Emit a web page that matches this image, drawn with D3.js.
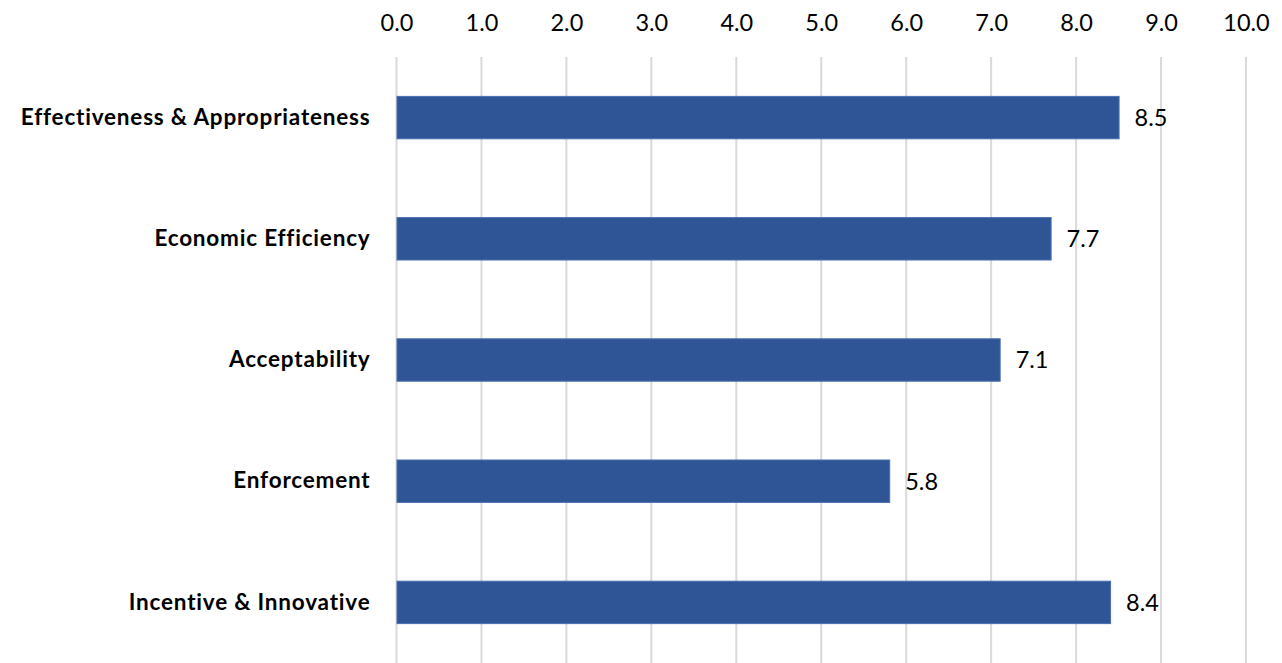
<!DOCTYPE html>
<html>
<head>
<meta charset="utf-8">
<script src="https://cdn.jsdelivr.net/npm/d3@7"></script>
<style>
  html, body { margin: 0; padding: 0; background: #fff; }
  svg { display: block; }
  text { font-family: Lato, "Open Sans", sans-serif; fill: #000; }
</style>
</head>
<body>
<div id="chart"></div>
<script>
// Criteria and their average scores
const categories = [
  "Effectiveness & Appropriateness",
  "Economic Efficiency",
  "Acceptability",
  "Enforcement",
  "Incentive & Innovative"
];
const scores = [8.5, 7.7, 7.1, 5.8, 8.4];
const tickValues = [0, 1, 2, 3, 4, 5, 6, 7, 8, 9, 10];

const width = 1282, height = 663;
const margin = { top: 57, right: 36, bottom: 0, left: 396.5 };

const svg = d3.select("#chart").append("svg")
  .attr("width", width)
  .attr("height", height);

const x = d3.scaleLinear()
  .domain([0, 10])
  .range([margin.left, width - margin.right]);

const y = d3.scaleBand()
  .domain(categories)
  .range([margin.top, height - margin.bottom])
  .paddingInner(0.65)
  .paddingOuter(0.325);

// Vertical gridlines
svg.append("g")
  .selectAll("line")
  .data(tickValues)
  .join("line")
  .attr("x1", d => x(d))
  .attr("x2", d => x(d))
  .attr("y1", margin.top)
  .attr("y2", height)
  .attr("stroke", "#d9d9d9")
  .attr("stroke-width", 2);

// Top axis labels
const xAxis = d3.axisTop(x)
  .tickValues(tickValues)
  .tickFormat(d3.format(".1f"))
  .tickSize(0)
  .tickPadding(0);

const gx = svg.append("g")
  .attr("transform", "translate(0,31)")
  .call(xAxis);
gx.select(".domain").remove();
gx.selectAll("text")
  .attr("font-size", 23.5)
  .attr("font-family", "Lato, 'Open Sans', sans-serif")
  .attr("fill", "#000")
  .attr("dy", 0);

// Category labels
const yAxis = d3.axisLeft(y).tickSize(0).tickPadding(26);
const gy = svg.append("g")
  .attr("transform", `translate(${margin.left},0)`)
  .call(yAxis);
gy.select(".domain").remove();
gy.selectAll("text")
  .attr("font-size", 22.5)
  .attr("font-weight", "bold")
  .attr("letter-spacing", "0.8px")
  .attr("font-family", "Lato, 'Open Sans', sans-serif")
  .attr("fill", "#000");

// Bars
svg.append("g")
  .selectAll("rect")
  .data(categories)
  .join("rect")
  .attr("x", x(0) + 0.5)
  .attr("y", d => y(d))
  .attr("width", (d, i) => x(scores[i]) - x(0))
  .attr("height", y.bandwidth())
  .attr("fill", "#2f5597")
  .attr("stroke", "#4a6fb0")
  .attr("stroke-width", 1);

// Value labels
svg.append("g")
  .selectAll("text")
  .data(categories)
  .join("text")
  .attr("x", (d, i) => x(scores[i]) + 16)
  .attr("y", d => y(d) + y.bandwidth() / 2)
  .attr("dy", "0.36em")
  .attr("font-size", 23.5)
  .text((d, i) => d3.format(".1f")(scores[i]));
</script>
</body>
</html>
